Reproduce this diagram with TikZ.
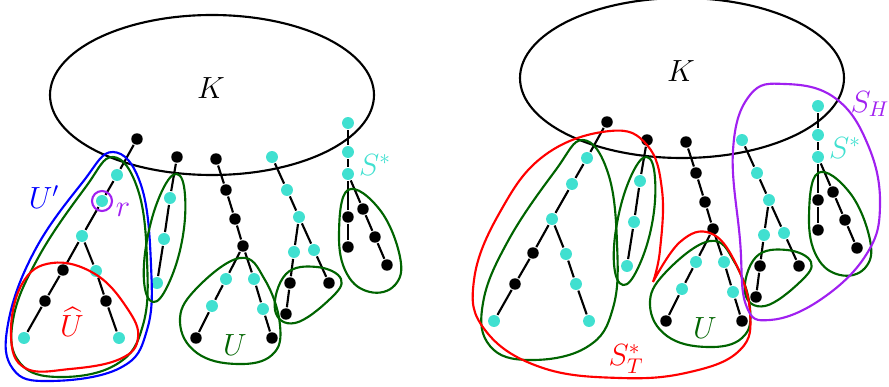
\documentclass[tikz,border=0pt]{standalone}
\usepackage{amsmath,amssymb,amsfonts}
\usepackage{xcolor}
\usepackage{tikz}
\definecolor{turq}{RGB}{64,224,208}
\definecolor{dgreen}{RGB}{0,100,0}
\definecolor{lilac}{RGB}{160,32,240}

\begin{document}
\begin{tikzpicture}[x=0.47pt, y=-0.47pt, line width=1pt,
   cnode/.style={circle, fill=turq, inner sep=0pt, minimum size=5.6pt},
   bnode/.style={circle, fill=black, inner sep=0pt, minimum size=5.4pt},
   lbl/.style={font=\Large},
   blob/.style={smooth cycle, tension=0.7}]
   \useasboundingbox (0 , 0) rectangle (889 , 387);

   % left copy
   \node (kl) [lbl] at (211 , 88) {$K$};
   \draw (212 , 95) ellipse [x radius=162, y radius=80];

   \node [bnode] (la0) at (137 , 139) {};
   \node [cnode] (la1) at (117 , 175) {};
   \node [cnode] (la2) at (102 , 201) {};
   \node [cnode] (la3) at (82 , 236) {};
   \node [bnode] (la4) at (63 , 270) {};
   \node [bnode] (la5) at (45 , 301) {};
   \node [cnode] (la6) at (24 , 338) {};
   \node [cnode] (la7) at (96 , 271) {};
   \node [bnode] (la8) at (106 , 301) {};
   \node [cnode] (la9) at (119 , 338) {};

   \node [bnode] (lb0) at (177 , 157) {};
   \node [cnode] (lb1) at (170 , 198) {};
   \node [cnode] (lb2) at (164 , 239) {};
   \node [cnode] (lb3) at (157 , 283) {};

   \node [bnode] (lc0) at (216 , 159) {};
   \node [bnode] (lc1) at (226 , 190) {};
   \node [bnode] (lc2) at (235 , 219) {};
   \node [bnode] (lc3) at (243 , 246) {};
   \node [cnode] (lc4) at (226 , 279) {};
   \node [cnode] (lc5) at (212 , 306) {};
   \node [bnode] (lc6) at (196 , 338) {};
   \node [cnode] (lc7) at (254 , 279) {};
   \node [cnode] (lc8) at (263 , 309) {};
   \node [bnode] (lc9) at (272 , 338) {};

   \node [cnode] (ld0) at (272 , 157) {};
   \node [cnode] (ld1) at (287 , 190) {};
   \node [cnode] (ld2) at (299 , 217) {};
   \node [cnode] (ld3) at (294 , 252) {};
   \node [bnode] (ld4) at (290 , 283) {};
   \node [bnode] (ld5) at (286 , 314) {};
   \node [cnode] (ld6) at (314 , 250) {};
   \node [bnode] (ld7) at (329 , 283) {};

   \node [cnode] (le0) at (348 , 123) {};
   \node [cnode] (le1) at (348 , 152) {};
   \node [cnode] (le2) at (348 , 174) {};
   \node [bnode] (le3) at (348 , 217) {};
   \node [bnode] (le4) at (348 , 247) {};
   \node [bnode] (le5) at (363 , 209) {};
   \node [bnode] (le6) at (375 , 237) {};
   \node [bnode] (le7) at (387 , 265) {};

   \draw (la0) -- (la1) -- (la2) -- (la3) -- (la4) -- (la5) -- (la6);
   \draw (la3) -- (la7) -- (la8) -- (la9);
   \draw (lb0) -- (lb1) -- (lb2) -- (lb3);
   \draw (lc0) -- (lc1) -- (lc2) -- (lc3) -- (lc4) -- (lc5) -- (lc6);
   \draw (lc3) -- (lc7) -- (lc8) -- (lc9);
   \draw (ld0) -- (ld1) -- (ld2) -- (ld3) -- (ld4) -- (ld5);
   \draw (ld2) -- (ld6) -- (ld7);
   \draw (le0) -- (le1) -- (le2) -- (le3) -- (le4);
   \draw (le2) -- (le5) -- (le6) -- (le7);

   \draw [dgreen] plot [blob] coordinates {(113,157) (138,190) (147,260) (143,325) (117,364) (60,377) (20,363) (13,320) (38,258) (85,188)};
   \draw [blue] plot [blob] coordinates {(113,152) (141,185) (151,265) (147,330) (120,368) (50,381) (13,369) (8,324) (34,252) (82,183)};
   \draw [red] plot [blob] coordinates {(52,263) (95,274) (127,308) (138,338) (120,359) (70,369) (25,368) (11,335) (22,284)};
   \draw [dgreen] plot [blob] coordinates {(177,174) (185,195) (182,241) (168,285) (153,302) (144,281) (148,235) (162,191)};
   \draw [dgreen] plot [blob] coordinates {(240,258) (265,280) (280,325) (272,355) (237,364) (197,353) (180,322) (195,290)};
   \draw [dgreen] plot [blob] coordinates {(275,310) (286,274) (317,267) (341,279) (330,299) (295,323)};
   \draw [dgreen] plot [blob] coordinates {(348,190) (380,210) (400,257) (395,285) (370,292) (347,274) (339,235)};
   \draw [lilac] (la2) circle [radius=10];

   \node (uprime) [lbl, blue] at (44 , 197) {$U'$};
   \node (rlbl) [lbl, lilac] at (123 , 210) {$r$};
   \node (uhat) [lbl, red] at (72 , 322) {$\widehat{U}$};
   \node (ul) [lbl, dgreen] at (235 , 345) {$U$};
   \node (sl) [lbl, turq] at (375 , 165) {$S^*$};

   % right copy
   \begin{scope}[shift={(470 , -17)}]
   \node (kr) [lbl] at (211 , 88) {$K$};
   \draw (212 , 95) ellipse [x radius=162, y radius=80];

   \node [bnode] (ra0) at (137 , 139) {};
   \node [cnode] (ra1) at (117 , 175) {};
   \node [cnode] (ra2) at (102 , 201) {};
   \node [cnode] (ra3) at (82 , 236) {};
   \node [bnode] (ra4) at (63 , 270) {};
   \node [bnode] (ra5) at (45 , 301) {};
   \node [cnode] (ra6) at (24 , 338) {};
   \node [cnode] (ra7) at (96 , 271) {};
   \node [cnode] (ra8) at (106 , 301) {};
   \node [cnode] (ra9) at (119 , 338) {};

   \node [bnode] (rb0) at (177 , 157) {};
   \node [cnode] (rb1) at (170 , 198) {};
   \node [cnode] (rb2) at (164 , 239) {};
   \node [cnode] (rb3) at (157 , 283) {};

   \node [bnode] (rc0) at (216 , 159) {};
   \node [bnode] (rc1) at (226 , 190) {};
   \node [bnode] (rc2) at (235 , 219) {};
   \node [bnode] (rc3) at (243 , 246) {};
   \node [cnode] (rc4) at (226 , 279) {};
   \node [cnode] (rc5) at (212 , 306) {};
   \node [bnode] (rc6) at (196 , 338) {};
   \node [cnode] (rc7) at (254 , 279) {};
   \node [cnode] (rc8) at (263 , 309) {};
   \node [bnode] (rc9) at (272 , 338) {};

   \node [cnode] (rd0) at (272 , 157) {};
   \node [cnode] (rd1) at (287 , 190) {};
   \node [cnode] (rd2) at (299 , 217) {};
   \node [cnode] (rd3) at (294 , 252) {};
   \node [bnode] (rd4) at (290 , 283) {};
   \node [bnode] (rd5) at (286 , 314) {};
   \node [cnode] (rd6) at (314 , 250) {};
   \node [bnode] (rd7) at (329 , 283) {};

   \node [cnode] (re0) at (348 , 123) {};
   \node [cnode] (re1) at (348 , 152) {};
   \node [cnode] (re2) at (348 , 174) {};
   \node [bnode] (re3) at (348 , 217) {};
   \node [bnode] (re4) at (348 , 247) {};
   \node [bnode] (re5) at (363 , 209) {};
   \node [bnode] (re6) at (375 , 237) {};
   \node [bnode] (re7) at (387 , 265) {};

   \draw (ra0) -- (ra1) -- (ra2) -- (ra3) -- (ra4) -- (ra5) -- (ra6);
   \draw (ra3) -- (ra7) -- (ra8) -- (ra9);
   \draw (rb0) -- (rb1) -- (rb2) -- (rb3);
   \draw (rc0) -- (rc1) -- (rc2) -- (rc3) -- (rc4) -- (rc5) -- (rc6);
   \draw (rc3) -- (rc7) -- (rc8) -- (rc9);
   \draw (rd0) -- (rd1) -- (rd2) -- (rd3) -- (rd4) -- (rd5);
   \draw (rd2) -- (rd6) -- (rd7);
   \draw (re0) -- (re1) -- (re2) -- (re3) -- (re4);
   \draw (re2) -- (re5) -- (re6) -- (re7);

   \draw [dgreen] plot [blob] coordinates {(113,157) (138,190) (147,260) (143,325) (117,364) (60,377) (20,363) (13,320) (38,258) (85,188)};
   \draw [dgreen] plot [blob] coordinates {(177,174) (185,195) (182,241) (168,285) (153,302) (144,281) (148,235) (162,191)};
   \draw [dgreen] plot [blob] coordinates {(240,258) (265,280) (280,325) (272,355) (237,364) (197,353) (180,322) (195,290)};
   \draw [dgreen] plot [blob] coordinates {(275,310) (286,274) (317,267) (341,279) (330,299) (295,323)};
   \draw [dgreen] plot [blob] coordinates {(348,190) (380,210) (400,257) (395,285) (370,292) (347,274) (339,235)};

   \node (ur) [lbl, dgreen] at (235 , 345) {$U$};
   \node (sr) [lbl, turq] at (375 , 165) {$S^*$};
   \end{scope}

   \draw [red] plot [smooth, tension=0.7] coordinates {(653,282) (680,242) (710,233) (735,262) (750,312) (740,350) (690,372) (620,378) (540,367) (485,330) (474,280) (500,212) (545,155) (610,131) (647,145) (662,190) (660,250) (653,282)};
   \draw [lilac] plot [blob] coordinates {(785,84) (835,98) (868,145) (880,205) (866,255) (820,300) (770,320) (746,305) (740,240) (733,150) (750,95)};

   \node (st) [lbl, red] at (626 , 359) {$S_T^*$};
   \node (sh) [lbl, lilac] at (870 , 104) {$S_H$};
\end{tikzpicture}
\end{document}
